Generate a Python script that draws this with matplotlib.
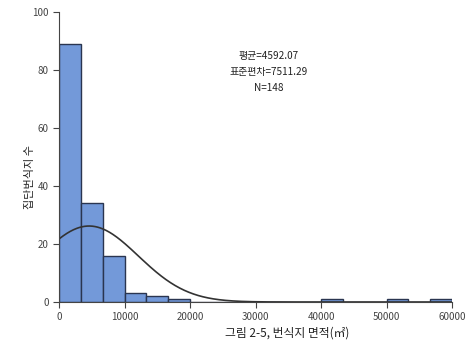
import numpy as np
import matplotlib
matplotlib.use("Agg")
import matplotlib.pyplot as plt

plt.rcParams['font.family'] = ['Noto Sans CJK KR', 'DejaVu Sans']

# histogram data (bin width 60000/18)
bin_edges = np.linspace(0, 60000, 19)
counts = [89, 34, 16, 3, 2, 1, 0, 0, 0, 0, 0, 0, 1, 0, 0, 1, 0, 1]
mean, sd, n = 4592.07, 7511.29, 148
xticks = [0, 10000, 20000, 30000, 40000, 50000, 60000]
yticks = [0, 20, 40, 60, 80, 100]

fig = plt.figure(figsize=(4.72, 3.52), dpi=100)
ax = fig.add_axes([0.125, 0.142, 0.833, 0.824])

widths = np.diff(bin_edges)
ax.bar(bin_edges[:-1], counts, width=widths, align='edge',
       color='#7399d9', edgecolor='#2a3550', linewidth=1.0)

xs = np.linspace(0, 60000, 600)
bw = widths[0]
pdf = n * bw / (sd * np.sqrt(2 * np.pi)) * np.exp(-0.5 * ((xs - mean) / sd) ** 2)
ax.plot(xs, pdf, color='#333333', lw=1.2)

ax.set_xlim(0, 60000); ax.set_ylim(0, 100)
ax.set_xticks(xticks); ax.set_yticks(yticks)
ax.tick_params(labelsize=7, length=4, color='#444444', labelcolor='#444444')
for s in ['top', 'right']: ax.spines[s].set_visible(False)
for s in ['left', 'bottom']: ax.spines[s].set_color('#444444')

ax.text(0.534, 0.793, f"평균={mean:.2f}\n표준편차={sd:.2f}\nN={n}",
        transform=ax.transAxes, ha='center', va='center', fontsize=7.2,
        linespacing=1.75, color='#222222')
ax.set_ylabel('집단번식지 수', fontsize=8, color='#222222')
ax.yaxis.set_label_coords(-0.06, 0.43)
ax.set_xlabel('그림 2-5, 번식지 면적(㎡)', fontsize=8.5, color='#222222')
ax.xaxis.set_label_coords(0.58, -0.085)

fig.savefig('out.png', dpi=100)
